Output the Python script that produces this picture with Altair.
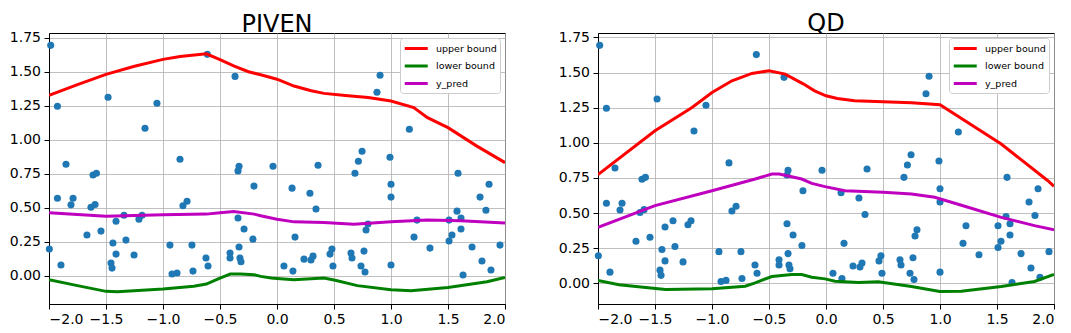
import altair as alt
import pandas as pd

# scatter points (shared by both panels)
pts_x = [-1.985, -1.926, -1.851, -1.614, -1.584, -1.482, -1.158, -1.053, -0.851, -0.611,
         -0.368, -0.333, -0.342, -0.035, 0.360, 0.684, 0.714, 0.746, 0.877, 0.904,
         0.991, 1.161, 1.588, -1.997, -1.926, -1.895, -1.807, -1.789, -1.667, -1.632,
         -1.596, -1.544, -1.439, -1.456, -1.447, -1.412, -1.412, -1.342, -1.325, -1.254,
         -1.211, -1.184, -0.939, -0.921, -0.877, -0.825, -0.789, -0.746, -0.737, -0.623,
         -0.605, -0.412, -0.412, -0.342, -0.333, -0.325, -0.316, -0.289, -0.211, -0.202,
         0.132, 0.289, 0.342, 0.158, 0.061, 0.140, 0.237, 0.298, 0.316, 0.465,
         0.482, 0.491, 0.649, 0.658, 0.737, 0.772, 0.763, 0.781, 0.798, 1.000,
         1.000, 1.000, 1.202, 1.228, 1.342, 1.509, 1.509, 1.535, 1.579, 1.614,
         1.614, 1.632, 1.711, 1.781, 1.798, 1.833, 1.860, 1.877, 1.956]
pts_y = [1.694, 1.246, 0.820, 0.741, 0.754, 1.312, 1.084, 1.268, 0.857, 1.628,
         1.466, 0.805, 0.771, 0.805, 0.813, 0.754, 0.842, 0.915, 1.349, 1.474,
         0.871, 1.077, 0.754, 0.196, 0.570, 0.079, 0.521, 0.570, 0.299, 0.504,
         0.524, 0.328, 0.240, 0.093, 0.056, 0.401, 0.159, 0.445, 0.262, 0.152,
         0.416, 0.445, 0.225, 0.012, 0.020, 0.514, 0.548, 0.225, 0.034, 0.130,
         0.071, 0.167, 0.130, 0.424, 0.211, 0.130, 0.103, 0.343, 0.269, 0.659,
         0.644, 0.607, 0.490, 0.284, 0.071, 0.034, 0.122, 0.115, 0.144, 0.159,
         0.196, 0.071, 0.167, 0.130, 0.071, 0.027, 0.181, 0.336, 0.380, 0.673,
         0.578, 0.079, 0.284, 0.409, 0.203, 0.409, 0.255, 0.299, 0.475, 0.424,
         0.343, 0.005, 0.211, 0.578, 0.108, 0.482, 0.673, 0.042, 0.225]

# PIVEN curves
piven_upper_x = [-2.0, -1.75, -1.5, -1.25, -1.0, -0.85, -0.62, -0.5, -0.375, -0.25, -0.143, 0.0,
                 0.149, 0.3, 0.412, 0.6, 0.8, 1.0, 1.2, 1.32, 1.5, 1.75, 2.0]
piven_upper_y = [1.327, 1.405, 1.481, 1.540, 1.591, 1.612, 1.632, 1.590, 1.542, 1.500, 1.478, 1.445,
                 1.395, 1.360, 1.341, 1.325, 1.310, 1.285, 1.236, 1.162, 1.089, 0.955, 0.832]
piven_lower_x = [-2.0, -1.75, -1.5, -1.4, -1.0, -0.73, -0.62, -0.5, -0.41, -0.32, -0.2, -0.143,
                 -0.05, 0.0, 0.149, 0.412, 0.5, 0.705, 1.0, 1.175, 1.5, 1.842, 2.0]
piven_lower_y = [-0.029, -0.073, -0.115, -0.117, -0.098, -0.078, -0.061, -0.017, 0.012, 0.012, 0.007, -0.005,
                 -0.017, -0.020, -0.029, -0.017, -0.032, -0.073, -0.103, -0.110, -0.086, -0.044, -0.012]
piven_pred_x = [-2.0, -1.5, -1.0, -0.62, -0.5, -0.38, -0.2, -0.143, 0.0, 0.149, 0.412, 0.675,
                1.0, 1.32, 1.61, 2.0]
piven_pred_y = [0.463, 0.438, 0.448, 0.453, 0.463, 0.472, 0.453, 0.441, 0.416, 0.396, 0.391, 0.379,
                0.396, 0.409, 0.404, 0.387]

# QD curves
qd_upper_x = [-2.0, -1.5, -1.175, -1.0, -0.825, -0.65, -0.5, -0.358, -0.2, -0.1, 0.0, 0.1,
              0.25, 0.5, 0.75, 1.0, 1.537, 1.946, 2.0]
qd_upper_y = [0.773, 1.086, 1.252, 1.358, 1.442, 1.494, 1.513, 1.489, 1.420, 1.370, 1.335, 1.315,
              1.300, 1.292, 1.285, 1.271, 0.991, 0.730, 0.690]
qd_lower_x = [-2.0, -1.816, -1.408, -1.0, -0.709, -0.621, -0.475, -0.30, -0.213, -0.125, -0.009,
              0.079, 0.284, 0.459, 0.75, 0.998, 1.187, 1.537, 1.829, 2.0]
qd_lower_y = [0.019, -0.011, -0.045, -0.040, -0.021, 0.003, 0.048, 0.062, 0.062, 0.043, 0.031,
              0.014, 0.005, 0.010, -0.023, -0.059, -0.057, -0.023, 0.012, 0.062]
qd_pred_x = [-2.0, -1.5, -1.0, -0.621, -0.475, -0.41, -0.213, -0.125, -0.009, 0.166, 0.502,
             0.75, 0.954, 1.246, 1.537, 1.829, 2.0]
qd_pred_y = [0.398, 0.553, 0.659, 0.742, 0.778, 0.778, 0.742, 0.711, 0.688, 0.659, 0.647,
             0.636, 0.612, 0.541, 0.469, 0.410, 0.380]

series_names = ["upper bound", "lower bound", "y_pred"]
series_colors = ["#ff0000", "#008000", "#bf00bf"]
x_ticks = [-2.0, -1.5, -1.0, -0.5, 0.0, 0.5, 1.0, 1.5, 2.0]
y_ticks = [0.0, 0.25, 0.5, 0.75, 1.0, 1.25, 1.5, 1.75]
FONT = "DejaVu Sans"


def curves_df(parts):
    frames = []
    for (xs, ys), name in zip(parts, series_names):
        frames.append(pd.DataFrame({"x": xs, "y": ys, "series": name}))
    return pd.concat(frames, ignore_index=True)


def panel(title, parts, ydom):
    pts = pd.DataFrame({"x": pts_x, "y": pts_y})
    xs = alt.Scale(domain=[-2, 2], nice=False, zero=False)
    ys = alt.Scale(domain=ydom, nice=False, zero=False)
    xaxis = alt.Axis(values=x_ticks, format=".1f", title=None, labelOverlap=False)
    yaxis = alt.Axis(values=y_ticks, format=".2f", title=None, labelOverlap=False,
                     tickCount=8)
    points = alt.Chart(pts).mark_circle(size=50, color="#1f77b4", opacity=1).encode(
        x=alt.X("x:Q", scale=xs, axis=xaxis),
        y=alt.Y("y:Q", scale=ys, axis=yaxis),
    )
    lines = alt.Chart(curves_df(parts)).mark_line(strokeWidth=3, clip=True).encode(
        x=alt.X("x:Q", scale=xs, axis=xaxis),
        y=alt.Y("y:Q", scale=ys, axis=yaxis),
        color=alt.Color(
            "series:N",
            scale=alt.Scale(domain=series_names, range=series_colors),
            sort=series_names,
            legend=alt.Legend(
                title=None, orient="top-right", offset=5, fillColor="white",
                strokeColor="#cccccc", cornerRadius=3, padding=3,
                symbolType="M-1,0H3", symbolStrokeWidth=3, symbolSize=132,
                labelFontSize=9.5, labelFont=FONT, labelColor="black",
                rowPadding=3.5, labelOffset=18,
            ),
        ),
    )
    return alt.layer(points, lines).properties(
        width=456, height=271,
        title=alt.TitleParams(title, fontSize=24, font=FONT, fontWeight="normal",
                              anchor="middle", color="black", offset=-6),
    )


p1 = panel("PIVEN", [(piven_upper_x, piven_upper_y), (piven_lower_x, piven_lower_y),
                     (piven_pred_x, piven_pred_y)], [-0.208, 1.785])
p2 = panel("QD", [(qd_upper_x, qd_upper_y), (qd_lower_x, qd_lower_y),
                  (qd_pred_x, qd_pred_y)], [-0.148, 1.782])

chart = alt.hconcat(p1, p2, spacing=51).resolve_scale(color="independent").resolve_legend(
    color="independent"
).properties(padding={"left": 0, "top": 3, "right": 0, "bottom": 0}).configure(
    font=FONT
).configure_axis(
    labelFontSize=14, labelFont=FONT, labelColor="black", tickColor="black",
    domainColor="black", gridColor="#b0b0b0", gridWidth=0.8, tickSize=5,
    labelPadding=3.5, domain=True, labelOverlap=False,
).configure_axisY(minExtent=40, maxExtent=40).configure_view(
    stroke="black", strokeWidth=1
)

chart.save("out.html", embed_options={"renderer": "svg", "actions": False})
